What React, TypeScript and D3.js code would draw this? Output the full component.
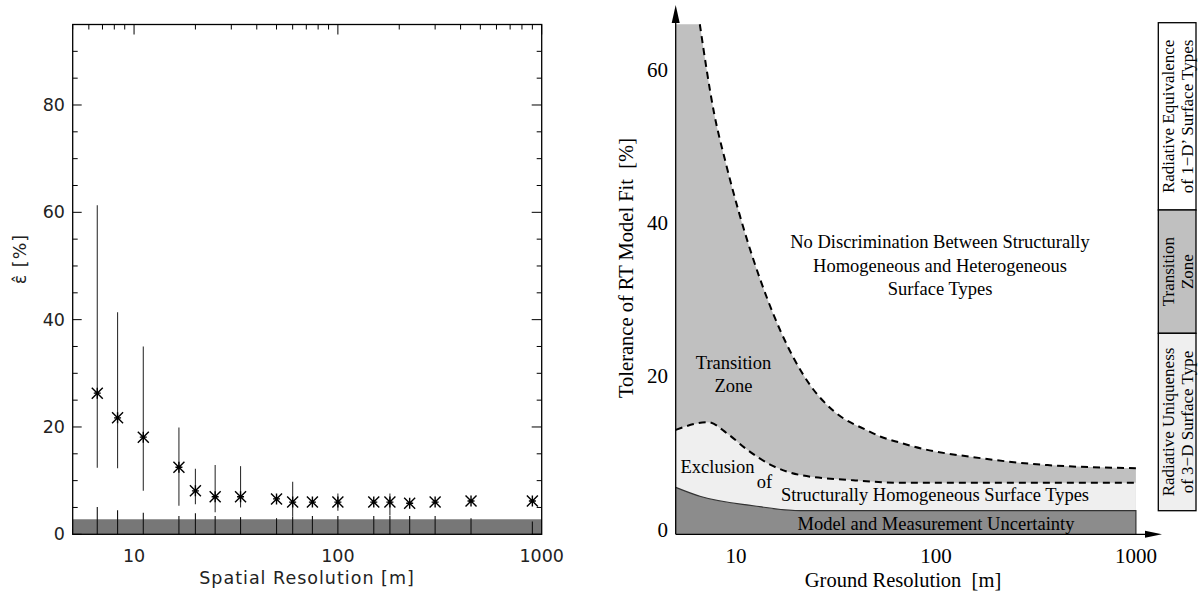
import React from 'react';
import * as d3 from 'd3';

// ---------- left panel: relative error vs spatial resolution ----------
const resolutions = [6.6, 8.3, 11.1, 16.6, 20, 25, 33.3, 50, 60, 75, 100, 150, 180, 225, 300, 450, 900];
const epsMean = [26.3, 21.7, 18.1, 12.5, 8.1, 7.0, 7.0, 6.6, 6.0, 6.0, 6.0, 6.0, 6.0, 5.8, 6.0, 6.2, 6.2];
const epsHigh = [61.3, 41.4, 35.0, 19.9, 12.2, 12.9, 12.7, 7.4, 9.8, 6.0, 7.6, 6.0, 7.6, 5.8, 6.0, 6.2, 6.2];
const epsLow = [12.4, 12.3, 8.1, 5.3, 5.6, 4.1, 5.0, 6.0, 3.3, 6.0, 4.4, 6.0, 3.5, 5.8, 6.0, 6.2, 6.2];
const floorTop = [5.1, 4.5, 4.0, 3.4, 3.9, 3.4, 3.2, 3.0, 3.3, 3.4, 3.4, 3.4, 3.4, 3.4, 3.4, 3.0, 2.4];
const noiseBand = 2.8;
const leftYTicks = [0, 20, 40, 60, 80];
const leftXTicks = [10, 100, 1000];

// ---------- right panel: conceptual zones ----------
const uncertaintyRes = [5, 6.67, 12.2, 21, 1000];
const uncertaintyVal = [5.5, 4.3, 3.1, 2.45, 2.45];
const lowerRes = [5, 7.26, 9.07, 11.4, 15, 21, 37.6, 66.8, 1000];
const lowerVal = [13.0, 14.0, 12.5, 10.4, 8.4, 7.1, 6.45, 6.1, 6.1];
const upperRes = [6.6, 7.78, 8.9, 10.4, 14.4, 19.5, 23.7, 31, 45.5, 53, 66.8, 77.8, 168, 362, 1000];
const upperVal = [65.9, 54.3, 47.8, 41.2, 30.0, 22.3, 18.7, 15.4, 12.9, 12.1, 11.3, 10.8, 9.3, 8.4, 8.0];
const ceiling = 65.9;
const rightYTicks = [0, 20, 40, 60];
const rightXTicks = [10, 100, 1000];

const legendBoxes = [
  { lines: ['Radiative Equivalence', 'of 1\u2212D\u2019 Surface Types'], fill: '#ffffff' },
  { lines: ['Transition', 'Zone'], fill: '#c0c0c0' },
  { lines: ['Radiative Uniqueness', 'of 3\u2212D Surface Type'], fill: '#efefef' },
];

const SANS = 'DejaVu Sans, sans-serif';
const SERIF = 'Liberation Serif, Times New Roman, serif';

function LeftPanel() {
  const L = 72.7, R = 541.7, T = 24.5, B = 534.3;
  const x = d3.scaleLog().domain([5, 1000]).range([L, R]);
  const y = d3.scaleLinear().domain([0, 95]).range([B, T]);
  const minorX: number[] = [];
  for (let d = 1; d <= 100; d *= 10) {
    for (let k = 1; k <= 9; k++) {
      const v = k * d;
      if (v >= 5 && v <= 1000 && k !== 1) minorX.push(v);
    }
  }
  const minorY = d3.range(5, 95, 5).filter((v) => v % 20 !== 0);
  const star = (cx: number, cy: number) => {
    const a = 5.5, h = 3.5;
    return `M${cx},${cy - a}L${cx},${cy + a}M${cx - a},${cy - a}L${cx + a},${cy + a}M${cx - a},${cy + a}L${cx + a},${cy - a}M${cx - h},${cy}L${cx + h},${cy}`;
  };
  return (
    <g>
      {/* bottom ticks */}
      {minorX.map((v) => (
        <line key={'bt' + v} x1={x(v)} x2={x(v)} y1={B} y2={B - 5} stroke="#000" strokeWidth={1} />
      ))}
      <rect x={L} y={y(noiseBand)} width={R - L} height={B - y(noiseBand)} fill="#777777" />
      {/* floor markers */}
      {resolutions.map((r, i) => (
        <line key={'f' + i} x1={x(r)} x2={x(r)} y1={y(floorTop[i])} y2={B} stroke="#111" strokeWidth={1.1} />
      ))}
      {/* error bars */}
      {resolutions.map((r, i) =>
        epsHigh[i] > epsLow[i] ? (
          <line key={'e' + i} x1={x(r)} x2={x(r)} y1={y(epsHigh[i])} y2={y(epsLow[i])} stroke="#333" strokeWidth={1.1} />
        ) : null
      )}
      {resolutions.map((r, i) => (
        <path key={'s' + i} d={star(x(r), y(epsMean[i]))} stroke="#000" strokeWidth={1.4} fill="none" />
      ))}
      {/* frame */}
      <rect x={L} y={T} width={R - L} height={B - T} fill="none" stroke="#000" strokeWidth={1.3} />
      {/* top ticks */}
      {leftXTicks.map((v) => (
        <line key={'tM' + v} x1={x(v)} x2={x(v)} y1={T} y2={T + 10} stroke="#000" strokeWidth={1} />
      ))}
      {minorX.map((v) => (
        <line key={'tm' + v} x1={x(v)} x2={x(v)} y1={T} y2={T + 5} stroke="#000" strokeWidth={1} />
      ))}
      {/* y ticks both sides */}
      {leftYTicks.map((v) => (
        <g key={'yM' + v}>
          <line x1={L} x2={L + 9} y1={y(v)} y2={y(v)} stroke="#000" strokeWidth={1} />
          <line x1={R} x2={R - 10} y1={y(v)} y2={y(v)} stroke="#000" strokeWidth={1} />
          <text x={65} y={y(v)} textAnchor="end" dominantBaseline="central" fontFamily={SANS} fontSize={17.5} fill="#222">
            {v}
          </text>
        </g>
      ))}
      {minorY.map((v) => (
        <g key={'ym' + v}>
          <line x1={L} x2={L + 5} y1={y(v)} y2={y(v)} stroke="#000" strokeWidth={1} />
          <line x1={R} x2={R - 5} y1={y(v)} y2={y(v)} stroke="#000" strokeWidth={1} />
        </g>
      ))}
      {leftXTicks.map((v) => (
        <text key={'xl' + v} x={x(v)} y={556} textAnchor="middle" dominantBaseline="central" fontFamily={SANS} fontSize={17.5} fill="#222">
          {v}
        </text>
      ))}
      <text x={307} y={578} textAnchor="middle" dominantBaseline="central" fontFamily={SANS} fontSize={17.5} letterSpacing={1} fill="#222">
        Spatial Resolution [m]
      </text>
      <text transform="translate(20,259) rotate(-90)" textAnchor="middle" dominantBaseline="central" fontFamily={SANS} fontSize={17.5} letterSpacing={1} fill="#222">
        {'\u03B5\u0302 [%]'}
      </text>
    </g>
  );
}

function RightPanel() {
  const L = 675.7, B = 534.3;
  const x = d3.scaleLog().domain([5, 1000]).range([L, 1135.9]);
  const y = d3.scaleLinear().domain([0, 60]).range([529.5, 69.5]);
  const line = d3
    .line<[number, number]>()
    .x((d) => x(d[0]))
    .y((d) => y(d[1]))
    .curve(d3.curveMonotoneX);
  const upperPts = upperRes.map((r, i) => [r, upperVal[i]] as [number, number]);
  const lowerPts = lowerRes.map((r, i) => [r, lowerVal[i]] as [number, number]);
  const uncPts = uncertaintyRes.map((r, i) => [r, uncertaintyVal[i]] as [number, number]);
  const upperD = line(upperPts) as string;
  const lowerD = line(lowerPts) as string;
  const uncD = line(uncPts) as string;
  const x5 = x(5), x1000 = x(1000);
  const transitionD = `M${x5},${y(ceiling)}L${upperD.slice(1)}L${x1000},${B}L${x5},${B}Z`;
  const exclusionD = `M${lowerD.slice(1)}L${x1000},${B}L${x5},${B}Z`;
  const uncertaintyD = `M${uncD.slice(1)}L${x1000},${B}L${x5},${B}Z`;

  const legendX0 = 1158.3, legendX1 = 1196;
  const legendY = [22.7, 210, 333.3, 510.7];

  return (
    <g>
      <path d={transitionD} fill="#c0c0c0" />
      <path d={exclusionD} fill="#efefef" />
      <path d={uncertaintyD} fill="#8c8c8c" />
      <path d={`M${uncD.slice(1)}L${x1000},${B}`} fill="none" stroke="#333" strokeWidth={1.2} />
      <path d={upperD} fill="none" stroke="#000" strokeWidth={2} strokeDasharray="7,5" />
      <path d={lowerD} fill="none" stroke="#000" strokeWidth={2} strokeDasharray="7,5" />

      {/* axes with arrows */}
      <line x1={L} x2={L} y1={B} y2={20} stroke="#000" strokeWidth={1.3} />
      <path d={`M${L},5L${L - 4},23L${L + 4},23Z`} fill="#000" />
      <line x1={L} x2={1148} y1={B} y2={B} stroke="#000" strokeWidth={1.3} />
      <path d={`M1162,${B}L1145,${B - 3.5}L1145,${B + 3.5}Z`} fill="#000" />

      {rightYTicks.map((v) => (
        <text key={'ry' + v} x={668} y={y(v)} textAnchor="end" dominantBaseline="central" fontFamily={SERIF} fontSize={21}>
          {v}
        </text>
      ))}
      {rightXTicks.map((v) => (
        <text key={'rx' + v} x={x(v)} y={556} textAnchor="middle" dominantBaseline="central" fontFamily={SERIF} fontSize={21}>
          {v}
        </text>
      ))}
      <text x={903} y={580} textAnchor="middle" dominantBaseline="central" fontFamily={SERIF} fontSize={20.5} style={{ whiteSpace: 'pre' }}>
        {'Ground Resolution  [m]'}
      </text>
      <text transform="translate(626,268) rotate(-90)" textAnchor="middle" dominantBaseline="central" fontFamily={SERIF} fontSize={20.5} style={{ whiteSpace: 'pre' }}>
        {'Tolerance of RT Model Fit  [%]'}
      </text>

      {/* zone labels */}
      <g fontFamily={SERIF} fontSize={18.5} textAnchor="middle" dominantBaseline="central">
        <text x={940} y={242}>No Discrimination Between Structurally</text>
        <text x={940} y={265.5}>Homogeneous and Heterogeneous</text>
        <text x={940} y={289}>Surface Types</text>
        <text x={733.5} y={363}>Transition</text>
        <text x={733.5} y={385.5}>Zone</text>
        <text x={717.5} y={467}>Exclusion</text>
        <text x={764.5} y={482}>of</text>
        <text x={935} y={495}>Structurally Homogeneous Surface Types</text>
        <text x={936} y={524}>Model and Measurement Uncertainty</text>
      </g>

      {/* side legend */}
      {legendBoxes.map((b, i) => {
        const cy = (legendY[i] + legendY[i + 1]) / 2;
        return (
          <g key={'lg' + i}>
            <rect x={legendX0} y={legendY[i]} width={legendX1 - legendX0} height={legendY[i + 1] - legendY[i]} fill={b.fill} stroke="#000" strokeWidth={1.3} />
            {b.lines.map((t, j) => (
              <text key={j} transform={`translate(${1168.5 + j * 18.5},${cy}) rotate(-90)`} textAnchor="middle" dominantBaseline="central" fontFamily={SERIF} fontSize={17}>
                {t}
              </text>
            ))}
          </g>
        );
      })}
    </g>
  );
}

export default function App() {
  return (
    <svg width={1200} height={596} viewBox="0 0 1200 596" style={{ position: 'absolute', left: 0, top: 0, background: '#fff' }}>
      <rect width={1200} height={596} fill="#fff" />
      <LeftPanel />
      <RightPanel />
    </svg>
  );
}
